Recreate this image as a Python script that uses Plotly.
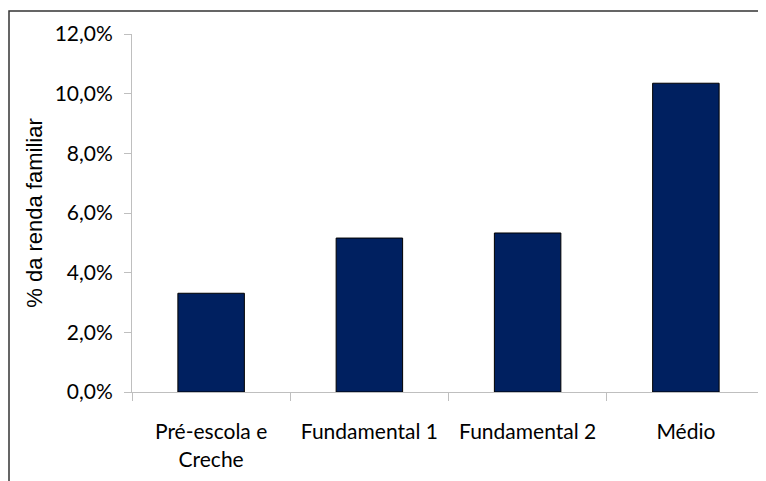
import plotly.graph_objects as go

categories = ["Pré-escola e<br>Creche", "Fundamental 1", "Fundamental 2", "Médio"]
values = [0.0331, 0.0516, 0.0533, 0.1035]
y_title = "% da renda familiar"

# page has an 8px body margin, so the figure is sized/positioned to compensate
W, H = 758, 473
ml, mr, mt, mb = 124, 1, 26, 89
pw = W - ml - mr
ph = H - mt - mb

fig = go.Figure()
fig.add_trace(go.Bar(
    x=categories, y=values,
    marker=dict(color="#002060", line=dict(color="#000000", width=1)),
    width=0.42,
))

tick_font = dict(family="Lato, Open Sans, sans-serif", size=21, color="#000000")
title_font = dict(family="Liberation Sans, Arial, sans-serif", size=22, color="#000000")

fig.update_layout(
    width=W, height=H,
    margin=dict(l=ml, r=mr, t=mt, b=mb, autoexpand=False),
    paper_bgcolor="white", plot_bgcolor="white",
    separators=",.",
    font=tick_font,
    showlegend=False,
    xaxis=dict(
        type="category", automargin=False,
        showline=True, linecolor="#BFBFBF", linewidth=1,
        ticks="outside", tickson="boundaries", ticklen=8, tickcolor="#BFBFBF",
        showgrid=False, ticklabelstandoff=21,
        tickfont=tick_font,
    ),
    yaxis=dict(
        automargin=False,
        range=[0, 0.12], dtick=0.02, tickformat=".1%",
        showline=True, linecolor="#BFBFBF", linewidth=1,
        ticks="outside", ticklen=7, tickcolor="#BFBFBF",
        showgrid=False, zeroline=False, ticklabelstandoff=7,
        tickfont=tick_font,
        title=dict(text=y_title, font=title_font, standoff=5),
    ),
)

# outer chart border (partially cropped in the reference)
fig.add_shape(
    type="rect", xref="paper", yref="paper",
    x0=(1 - ml) / pw, x1=1.2,
    y0=-0.6, y1=(H - mb - 3) / ph,
    line=dict(color="#333333", width=1.5), fillcolor="rgba(0,0,0,0)",
    layer="above",
)

fig.write_html("out.html")
